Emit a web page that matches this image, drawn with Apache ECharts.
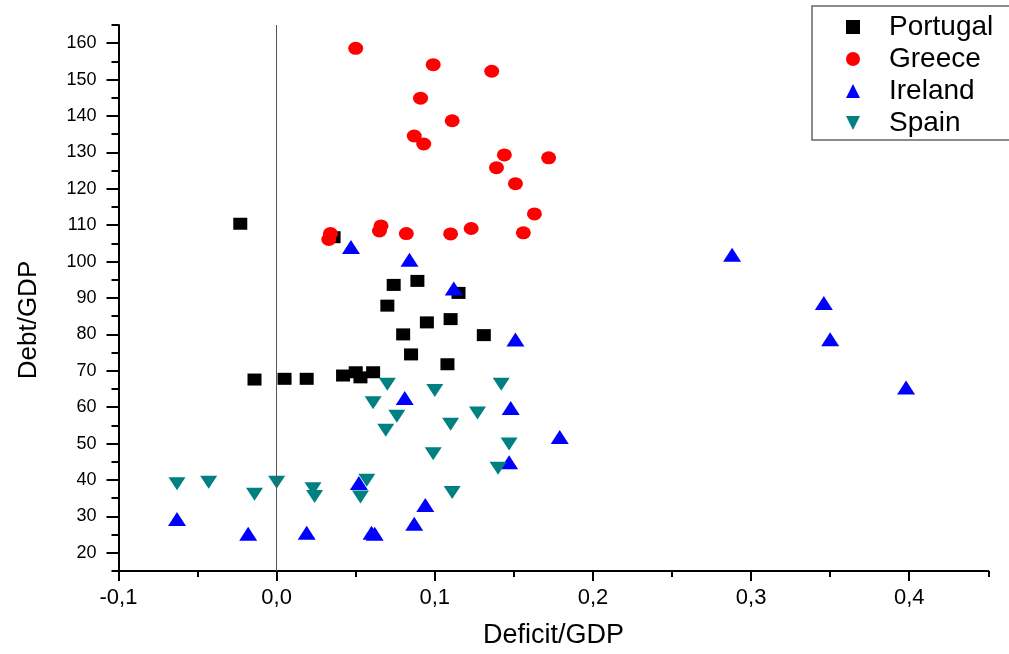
<!DOCTYPE html>
<html>
<head>
<meta charset="utf-8">
<title>Debt/GDP vs Deficit/GDP</title>
<script src="https://cdn.jsdelivr.net/npm/echarts@6/dist/echarts.min.js"></script>
<style>
  html, body { margin: 0; padding: 0; background: #fff; }
  #chart { width: 1009px; height: 654px; }
</style>
</head>
<body>
<div id="chart"></div>
<script>
// Deficit/GDP (x) and Debt/GDP (y) per country
const portugalDeficit = [-0.023, 0.036, 0.074, 0.089, 0.115, 0.070, 0.095, 0.110, 0.080, 0.131, 0.085, 0.108, -0.014, 0.005, 0.019, 0.042, 0.050, 0.053, 0.061];
const portugalDebt    = [110.4, 106.7, 93.6, 94.7, 91.4, 87.9, 83.3, 84.2, 80.0, 79.8, 74.5, 71.8, 67.6, 67.8, 67.8, 68.7, 69.6, 68.2, 69.6];

const greeceDeficit = [0.050, 0.099, 0.136, 0.091, 0.111, 0.087, 0.093, 0.144, 0.172, 0.139, 0.151, 0.163, 0.156, 0.123, 0.110, 0.082, 0.066, 0.065, 0.034, 0.033];
const greeceDebt    = [158.6, 154.1, 152.3, 144.9, 138.7, 134.5, 132.3, 129.3, 128.5, 125.8, 121.4, 113.1, 107.9, 109.1, 107.6, 107.7, 109.8, 108.4, 107.7, 106.1];

const irelandDeficit = [0.047, 0.084, 0.112, 0.151, 0.081, 0.148, 0.179, 0.147, 0.052, 0.094, 0.087, -0.063, -0.018, 0.019, 0.060, 0.062, 0.288, 0.346, 0.350, 0.398];
const irelandDebt    = [104.0, 100.5, 92.6, 78.6, 62.5, 59.8, 51.8, 44.9, 39.2, 33.1, 28.0, 29.3, 25.2, 25.5, 25.5, 25.2, 101.9, 88.6, 78.7, 65.4];

const spainDeficit = [0.070, 0.100, 0.142, 0.061, 0.076, 0.127, 0.110, 0.069, 0.147, 0.099, 0.140, -0.063, -0.043, -0.014, 0.000, 0.023, 0.024, 0.057, 0.053, 0.111];
const spainDebt    = [66.3, 64.6, 66.3, 61.2, 57.5, 58.4, 55.3, 53.7, 49.9, 47.2, 43.2, 39.0, 39.4, 36.1, 39.4, 37.6, 35.5, 39.9, 35.3, 36.6];

// Axis ranges and labelled tick values
const xTickValues = [-0.1, 0.0, 0.1, 0.2, 0.3, 0.4];
const yTickValues = [20, 30, 40, 50, 60, 70, 80, 90, 100, 110, 120, 130, 140, 150, 160];
const xRange = [-0.1, 0.45];
const yRange = [15, 165];

const pairs = (xs, ys) => xs.map((x, i) => [x, ys[i]]);

const SQUARE = 'path://M0,0 L1,0 L1,1 L0,1 Z';
const ELLIPSE = 'path://M0,1 A1,1 0 1,1 2,1 A1,1 0 1,1 0,1 Z';
const TRI_UP = 'path://M1,0 L2,2 L0,2 Z';
const TRI_DOWN = 'path://M0,0 L2,0 L1,2 Z';

const sans = "'Liberation Sans', Arial, sans-serif";

const axisLineStyle = { color: '#000', width: 2 };

const chart = echarts.init(document.getElementById('chart'), null, { renderer: 'canvas' });

chart.setOption({
  backgroundColor: '#fff',
  animation: false,
  grid: { left: 118.5, right: 20.7, top: 25, bottom: 82.5 },
  legend: {
    orient: 'vertical',
    left: 812,
    top: 6,
    padding: [7, 30, 3, 34],
    itemWidth: 18,
    itemHeight: 14,
    itemGap: 4,
    symbolKeepAspect: true,
    borderColor: '#666',
    borderWidth: 1.5,
    textStyle: { fontFamily: sans, fontSize: 28, color: '#000', padding: [0, 0, 0, 22] },
    data: [
      { name: 'Portugal', icon: SQUARE },
      { name: 'Greece', icon: ELLIPSE },
      { name: 'Ireland', icon: TRI_UP },
      { name: 'Spain', icon: TRI_DOWN }
    ]
  },
  xAxis: [
    {
      // minor ticks every 0.05
      type: 'value', position: 'bottom', min: xRange[0], max: xRange[1], interval: 0.05,
      axisLine: { onZero: false, lineStyle: axisLineStyle },
      axisTick: { length: 6, lineStyle: axisLineStyle },
      axisLabel: { show: false },
      splitLine: { show: false },
      name: 'Deficit/GDP', nameLocation: 'middle', nameGap: 51,
      nameTextStyle: { fontFamily: sans, fontSize: 27, color: '#000' }
    },
    {
      // labelled major ticks
      type: 'value', position: 'bottom', min: xRange[0], max: xRange[1],
      axisLine: { show: false, onZero: false },
      axisTick: { length: 10, lineStyle: axisLineStyle, customValues: xTickValues },
      axisLabel: {
        customValues: xTickValues, margin: 16,
        fontFamily: sans, fontSize: 22, color: '#000',
        formatter: v => v.toFixed(1).replace('.', ',')
      },
      splitLine: { show: false }
    }
  ],
  yAxis: [
    {
      // minor ticks every 5
      type: 'value', position: 'left', min: yRange[0], max: yRange[1], interval: 5,
      axisLine: { onZero: false, lineStyle: axisLineStyle },
      axisTick: { length: 7, lineStyle: axisLineStyle },
      axisLabel: { show: false },
      splitLine: { show: false },
      name: 'Debt/GDP', nameLocation: 'middle', nameGap: 77, nameRotate: 90,
      nameTextStyle: { fontFamily: sans, fontSize: 26, color: '#000', padding: [0, 44, 0, 0] }
    },
    {
      // labelled major ticks
      type: 'value', position: 'left', min: yRange[0], max: yRange[1],
      axisLine: { show: false, onZero: false },
      axisTick: { length: 12, lineStyle: axisLineStyle, customValues: yTickValues },
      axisLabel: {
        customValues: yTickValues, margin: 22,
        fontFamily: sans, fontSize: 18, color: '#000'
      },
      splitLine: { show: false }
    }
  ],
  series: [
    {
      name: 'Portugal', type: 'scatter', data: pairs(portugalDeficit, portugalDebt),
      symbol: 'rect', symbolSize: [14, 12], itemStyle: { color: '#000', opacity: 1 },
      markLine: {
        silent: true, symbol: 'none', label: { show: false },
        lineStyle: { color: '#555', width: 1, type: 'solid' },
        data: [{ xAxis: 0 }]
      }
    },
    {
      name: 'Greece', type: 'scatter', data: pairs(greeceDeficit, greeceDebt),
      symbol: ELLIPSE, symbolSize: [15, 13], itemStyle: { color: '#ff0000', opacity: 1 }
    },
    {
      name: 'Ireland', type: 'scatter', data: pairs(irelandDeficit, irelandDebt),
      symbol: TRI_UP, symbolSize: [18, 14], itemStyle: { color: '#0000ff', opacity: 1 }
    },
    {
      name: 'Spain', type: 'scatter', data: pairs(spainDeficit, spainDebt),
      symbol: TRI_DOWN, symbolSize: [17, 13], itemStyle: { color: '#008080', opacity: 1 }
    }
  ]
});
</script>
</body>
</html>
